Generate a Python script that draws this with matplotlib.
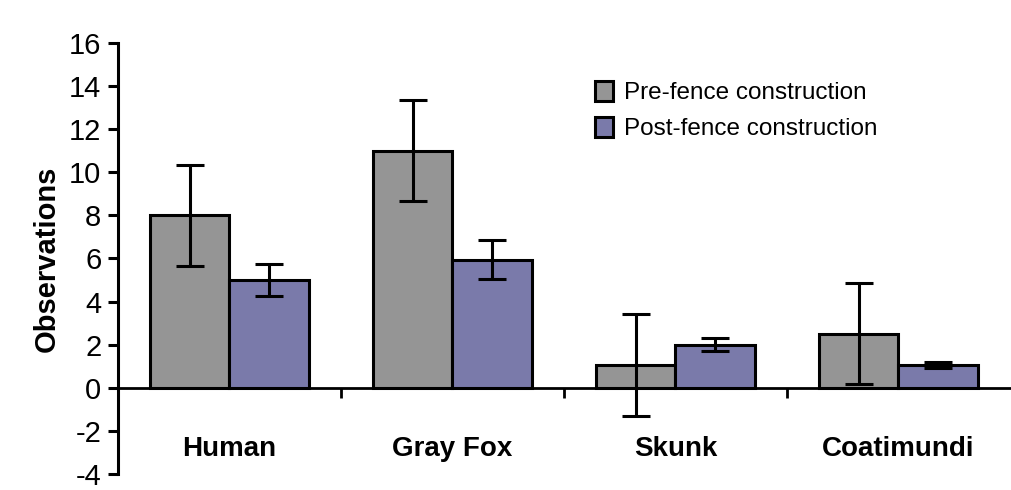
import numpy as np
import matplotlib
matplotlib.use("Agg")
from matplotlib import pyplot as plt

plt.rcParams['font.family'] = ['Liberation Sans', 'DejaVu Sans']
plt.rcParams['axes.unicode_minus'] = False

species = ['Human', 'Gray Fox', 'Skunk', 'Coatimundi']
pre_mean = [8.0, 11.0, 1.05, 2.5]
pre_err = [2.35, 2.35, 2.35, 2.35]
post_mean = [5.0, 5.95, 2.0, 1.05]
post_err = [0.75, 0.9, 0.3, 0.15]

fig = plt.figure(figsize=(10.12, 4.9), dpi=100)
ax = fig.add_axes([0.1166, 0.033, 0.8814, 0.879])

x = np.arange(len(species))
w = 0.355
err_kw = dict(elinewidth=2.2, capsize=10, capthick=2.2, ecolor='black')
ax.bar(x - w/2, pre_mean, w, yerr=pre_err, color='#959595', edgecolor='black',
       linewidth=2.2, error_kw=err_kw, label='Pre-fence construction', zorder=2)
ax.bar(x + w/2, post_mean, w, yerr=post_err, color='#7a7aaa', edgecolor='black',
       linewidth=2.2, error_kw=err_kw, label='Post-fence construction', zorder=2)

ax.set_xlim(-0.5, len(species) - 0.5)
ax.set_ylim(-4, 16)
ax.set_yticks(np.arange(-4, 17, 2))
ax.tick_params(axis='y', labelsize=21, width=2.2, length=7, direction='out', pad=5)

# x axis at y=0 with ticks between categories
ax.spines['top'].set_visible(False)
ax.spines['right'].set_visible(False)
ax.spines['bottom'].set_position(('data', 0))
ax.spines['bottom'].set_linewidth(2.0)
ax.spines['left'].set_linewidth(2.2)
ax.set_xticks(np.arange(0.5, len(species) - 0.5, 1))
ax.set_xticklabels([])
ax.tick_params(axis='x', width=2.0, length=7, direction='out')

for i, name in enumerate(species):
    ax.text(i, -2.85, name, ha='center', va='center', fontsize=20, fontweight='bold')

ax.set_ylabel('Observations', fontsize=21, fontweight='bold', labelpad=6)

leg = ax.legend(loc='upper left', bbox_to_anchor=(0.51, 0.963), frameon=False,
                fontsize=17.5, handlelength=0.75, handleheight=0.9, handletextpad=0.45,
                labelspacing=0.5)

fig.savefig('out.png', dpi=100)
